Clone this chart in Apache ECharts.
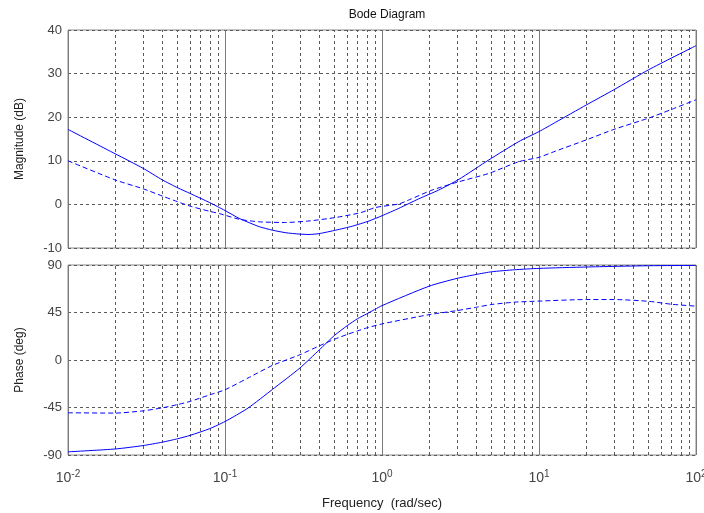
<!DOCTYPE html>
<html>
<head>
<meta charset="utf-8">
<script src="https://cdn.jsdelivr.net/npm/echarts@6/dist/echarts.min.js"></script>
<style>
  html, body { margin: 0; padding: 0; background: #fff; }
  #chart { width: 704px; height: 513px; }
</style>
</head>
<body>
<div id="chart"></div>
<script>
// Magnitude response (dB) of the two systems
const magSolidFreq = [0.01, 0.02, 0.03, 0.04, 0.05, 0.06, 0.08, 0.1, 0.123, 0.165, 0.2, 0.244, 0.296, 0.343, 0.398, 0.508, 0.647, 0.827, 1.0, 1.28, 1.72, 2.3, 3.09, 4.79, 7.43, 10, 12.7, 20, 30, 50, 100];
const magSolid = [17.2, 11.6, 8.3, 5.6, 3.8, 2.5, 0.4, -1.4, -3.2, -5.1, -5.9, -6.5, -6.8, -6.9, -6.7, -5.9, -5.0, -3.8, -2.6, -0.9, 1.3, 3.3, 5.75, 10.2, 14.4, 16.7, 18.8, 22.8, 26.3, 30.9, 36.4];
const magDashedFreq = [0.01, 0.02, 0.03, 0.04, 0.05, 0.06, 0.08, 0.092, 0.123, 0.165, 0.244, 0.343, 0.508, 0.73, 0.91, 1.28, 1.5, 2.09, 3.09, 4.79, 7.43, 10, 12.7, 20, 30, 50, 70, 100];
const magDashed = [10.0, 5.6, 3.6, 1.9, 0.6, -0.4, -1.6, -2.1, -3.4, -4.0, -4.15, -3.8, -3.0, -1.9, -0.7, 0.1, 1.1, 3.3, 5.2, 7.1, 9.8, 10.8, 12.2, 14.8, 17.2, 19.8, 21.8, 24.0];

// Phase response (deg)
const phaseSolidFreq = [0.01, 0.02, 0.03, 0.04, 0.05, 0.06, 0.08, 0.1, 0.14, 0.2, 0.3, 0.4, 0.5, 0.6, 0.7, 0.8, 1.0, 2, 3, 4, 5, 7, 10, 20, 50, 100];
const phaseSolid = [-87, -84.3, -81.1, -77.8, -74.6, -71.4, -65, -58.3, -45.6, -28, -7.6, 9.8, 23.5, 32.5, 39.2, 43.7, 51.5, 70, 77.3, 81.1, 83.6, 85.5, 86.8, 88.1, 89.3, 89.6];
const phaseDashedFreq = [0.01, 0.02, 0.03, 0.04, 0.05, 0.06, 0.08, 0.1, 0.14, 0.2, 0.3, 0.4, 0.5, 0.6, 0.7, 0.8, 1.0, 2, 3, 4, 5, 7, 10, 20, 30, 50, 70, 100];
const phaseDashed = [-50, -50.3, -48.2, -45.3, -42.2, -39.2, -33, -28.2, -17.1, -5.2, 5, 13.5, 19.8, 24.2, 27.6, 30.4, 34.2, 43, 46.8, 50, 52.6, 54.8, 55.8, 57.3, 57.3, 55.6, 52.8, 51];

// Axis ticks
const magTicks = { min: -10, max: 40, step: 10 };
const phaseTicks = { min: -90, max: 90, step: 45 };
const decades = [-2, -1, 0, 1];
const minorMultipliers = [2, 3, 4, 5, 6, 7, 8, 9];

const FONT = 'Liberation Sans, Arial, sans-serif';
const BLUE = '#0000ff';
const GRID_COLOR = '#5a5a5a';

const minorFreqs = [];
decades.forEach(d => minorMultipliers.forEach(m => minorFreqs.push(m * Math.pow(10, d))));

const pairs = (xs, ys) => xs.map((x, i) => [x, ys[i]]);

function minorGridSeries(idx) {
  return {
    type: 'line',
    xAxisIndex: idx, yAxisIndex: idx,
    data: [],
    silent: true,
    z: 1,
    markLine: {
      silent: true,
      animation: false,
      symbol: ['none', 'none'],
      label: { show: false },
      lineStyle: { color: GRID_COLOR, type: [3, 3], width: 1 },
      data: minorFreqs.map(f => ({ xAxis: f }))
    }
  };
}

function curve(idx, data, dashed) {
  return {
    type: 'line',
    xAxisIndex: idx, yAxisIndex: idx,
    data: data,
    showSymbol: false,
    symbol: 'none',
    smooth: 0.2,
    z: 5,
    animation: false,
    lineStyle: { color: BLUE, width: 1, type: dashed ? [5, 3] : 'solid' }
  };
}

const xBase = {
  type: 'log',
  logBase: 10,
  min: 0.01,
  max: 100,
  axisLine: { show: false },
  axisTick: { show: false },
  splitLine: { show: true, lineStyle: { color: '#7a7a7a', width: 1, type: 'solid' } }
};

const chart = echarts.init(document.getElementById('chart'), null, { renderer: 'canvas' });
chart.setOption({
  backgroundColor: '#fff',
  animation: false,
  title: {
    text: 'Bode Diagram',
    left: 382, top: 4,
    textAlign: 'center',
    textStyle: { fontFamily: FONT, fontSize: 12, fontWeight: 'normal', color: '#111' }
  },
  grid: [
    { left: 68, right: 8, top: 30, height: 218, show: true, borderColor: '#8a8a8a', borderWidth: 1, backgroundColor: '#fff', outerBoundsMode: 'none' },
    { left: 68, right: 8, top: 265, height: 190, show: true, borderColor: '#8a8a8a', borderWidth: 1, backgroundColor: '#fff', outerBoundsMode: 'none' }
  ],
  xAxis: [
    Object.assign({}, xBase, { gridIndex: 0, axisLabel: { show: false } }),
    Object.assign({}, xBase, {
      gridIndex: 1,
      name: 'Frequency  (rad/sec)',
      nameLocation: 'middle',
      nameGap: 42,
      nameTextStyle: { fontFamily: FONT, fontSize: 13, color: '#222' },
      axisLabel: {
        margin: 14,
        formatter: v => '{b|10}{s|' + Math.round(Math.log10(v)) + '}',
        rich: {
          b: { fontFamily: FONT, fontSize: 14, color: '#444' },
          s: { fontFamily: FONT, fontSize: 10, color: '#444', padding: [0, 0, 9, 0] }
        }
      }
    })
  ],
  yAxis: [
    {
      gridIndex: 0, type: 'value',
      min: magTicks.min, max: magTicks.max, interval: magTicks.step,
      name: 'Magnitude (dB)', nameLocation: 'middle', nameGap: 42,
      nameTextStyle: { fontFamily: FONT, fontSize: 12, color: '#222' },
      axisLine: { show: false }, axisTick: { show: false },
      axisLabel: { fontFamily: FONT, fontSize: 13, color: '#444', margin: 6 },
      splitLine: { lineStyle: { color: GRID_COLOR, type: [3, 3], width: 1 } }
    },
    {
      gridIndex: 1, type: 'value',
      min: phaseTicks.min, max: phaseTicks.max, interval: phaseTicks.step,
      name: 'Phase (deg)', nameLocation: 'middle', nameGap: 42,
      nameTextStyle: { fontFamily: FONT, fontSize: 12, color: '#222' },
      axisLine: { show: false }, axisTick: { show: false },
      axisLabel: { fontFamily: FONT, fontSize: 13, color: '#444', margin: 6 },
      splitLine: { lineStyle: { color: GRID_COLOR, type: [3, 3], width: 1 } }
    }
  ],
  series: [
    minorGridSeries(0),
    minorGridSeries(1),
    curve(0, pairs(magSolidFreq, magSolid), false),
    curve(0, pairs(magDashedFreq, magDashed), true),
    curve(1, pairs(phaseSolidFreq, phaseSolid), false),
    curve(1, pairs(phaseDashedFreq, phaseDashed), true)
  ]
});
</script>
</body>
</html>
